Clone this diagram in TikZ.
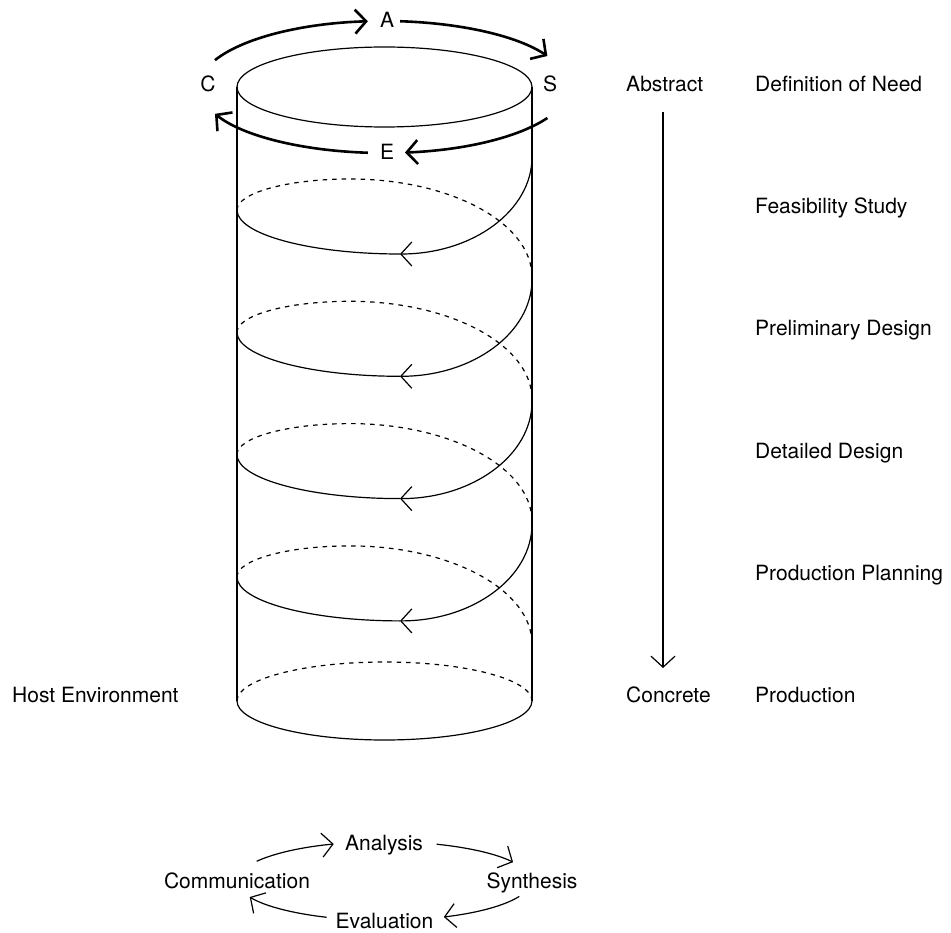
\documentclass[tikz,border=0pt]{standalone}
\usepackage{fontspec}
\setmainfont{TeX Gyre Heros}
\usetikzlibrary{arrows.meta}
\begin{document}
\begin{tikzpicture}[x=1pt,y=1pt,
  lbl/.style={font=\fontsize{21}{25}\selectfont, inner sep=0pt},
  cyl/.style={line width=1.2pt},
  bold/.style={line width=2.6pt},
  hid/.style={line width=1.2pt, dash pattern=on 4.5pt off 5pt},
  tipthin/.style={-{Straight Barb[length=11pt,width=24pt,line width=1.2pt]}},
  tipbold/.style={-{Straight Barb[length=11pt,width=24pt,line width=2.6pt]}},
]
\useasboundingbox (0,0) rectangle (951,-933);

% ---------- cylinder ----------
\coordinate (ctop) at (384.5,-87);
\coordinate (cbot) at (384.5,-701);
\coordinate (tl) at (237,-87);
\coordinate (bl) at (237,-701);
\coordinate (tr) at (532,-87);
\coordinate (br) at (532,-701);
\draw[cyl] (ctop) ellipse[x radius=147.5pt, y radius=40pt];
\draw[cyl] (tl) -- (bl);
\draw[cyl] (tr) -- (br);
\draw[cyl] (cbot) ++(180:147.5pt and 39pt) arc[start angle=180,end angle=360,x radius=147.5pt,y radius=39pt];
\draw[hid] (cbot) ++(0:147.5pt and 39pt) arc[start angle=0,end angle=180,x radius=147.5pt,y radius=39pt];

% ---------- spiral ----------
\foreach \o in {0,-122.3,-244.6,-366.9}{
  \begin{scope}[yshift=\o pt]
    \draw[cyl,tipthin] (532,-157) arc[start angle=0,end angle=-90,x radius=132pt,y radius=97pt];
    \draw[cyl] (400,-254) arc[start angle=-90,end angle=-180,x radius=163pt,y radius=44pt];
    \draw[hid] (237,-210) arc[start angle=180,end angle=90,x radius=113pt,y radius=31pt]
                          arc[start angle=90,end angle=0,x radius=182pt,y radius=98pt];
  \end{scope}
}

% ---------- top cycle ----------
\node[lbl, anchor=base] (A) at (387,-28) {A};
\node[lbl, anchor=base] (S) at (550,-92) {S};
\node[lbl, anchor=base] (E) at (387,-160) {E};
\node[lbl, anchor=base] (C) at (208,-92) {C};
\coordinate (tcyc) at (384,-87);
\draw[bold,tipbold] (tcyc) ++(156:185pt and 66pt) arc[start angle=156,end angle=95,x radius=185pt,y radius=66pt];
\draw[bold,tipbold] (tcyc) ++(85:185pt and 66pt) arc[start angle=85,end angle=28,x radius=185pt,y radius=66pt];
\draw[bold,tipbold] (tcyc) ++(-28:185pt and 66pt) arc[start angle=-28,end angle=-83.5,x radius=185pt,y radius=66pt];
\draw[bold,tipbold] (tcyc) ++(-95:185pt and 66pt) arc[start angle=-95,end angle=-156,x radius=185pt,y radius=66pt];

% ---------- right column ----------
\node[lbl, anchor=base west] (abs) at (626,-92) {Abstract};
\node[lbl, anchor=base west] (con) at (626,-702) {Concrete};
\coordinate (va) at (663,-112);
\coordinate (vb) at (663,-668);
\draw[cyl,tipthin] (va) -- (vb);

\node[lbl, anchor=base west] (p1) at (755,-92) {Definition of Need};
\node[lbl, anchor=base west] (p2) at (755,-214) {Feasibility Study};
\node[lbl, anchor=base west] (p3) at (755,-336) {Preliminary Design};
\node[lbl, anchor=base west] (p4) at (755,-458) {Detailed Design};
\node[lbl, anchor=base west] (p5) at (755,-580) {Production Planning};
\node[lbl, anchor=base west] (p6) at (755,-702) {Production};

\node[lbl, anchor=base west] (host) at (12,-702) {Host Environment};

% ---------- bottom cycle ----------
\node[lbl, anchor=base] (an) at (384,-850) {Analysis};
\node[lbl, anchor=base] (sy) at (532,-888) {Synthesis};
\node[lbl, anchor=base] (ev) at (384.5,-928) {Evaluation};
\node[lbl, anchor=base] (co) at (237,-888) {Communication};
\coordinate (bcyc) at (384,-881);
\draw[cyl,tipthin] (bcyc) ++(150:147pt and 39.4pt) arc[start angle=150,end angle=110,x radius=147pt,y radius=39.4pt];
\draw[cyl,tipthin] (bcyc) ++(69:147pt and 39.4pt) arc[start angle=69,end angle=28.6,x radius=147pt,y radius=39.4pt];
\draw[cyl,tipthin] (bcyc) ++(-23:147pt and 39.4pt) arc[start angle=-23,end angle=-66,x radius=147pt,y radius=39.4pt];
\draw[cyl,tipthin] (bcyc) ++(-113:147pt and 39.4pt) arc[start angle=-113,end angle=-156,x radius=147pt,y radius=39.4pt];
\end{tikzpicture}
\end{document}
